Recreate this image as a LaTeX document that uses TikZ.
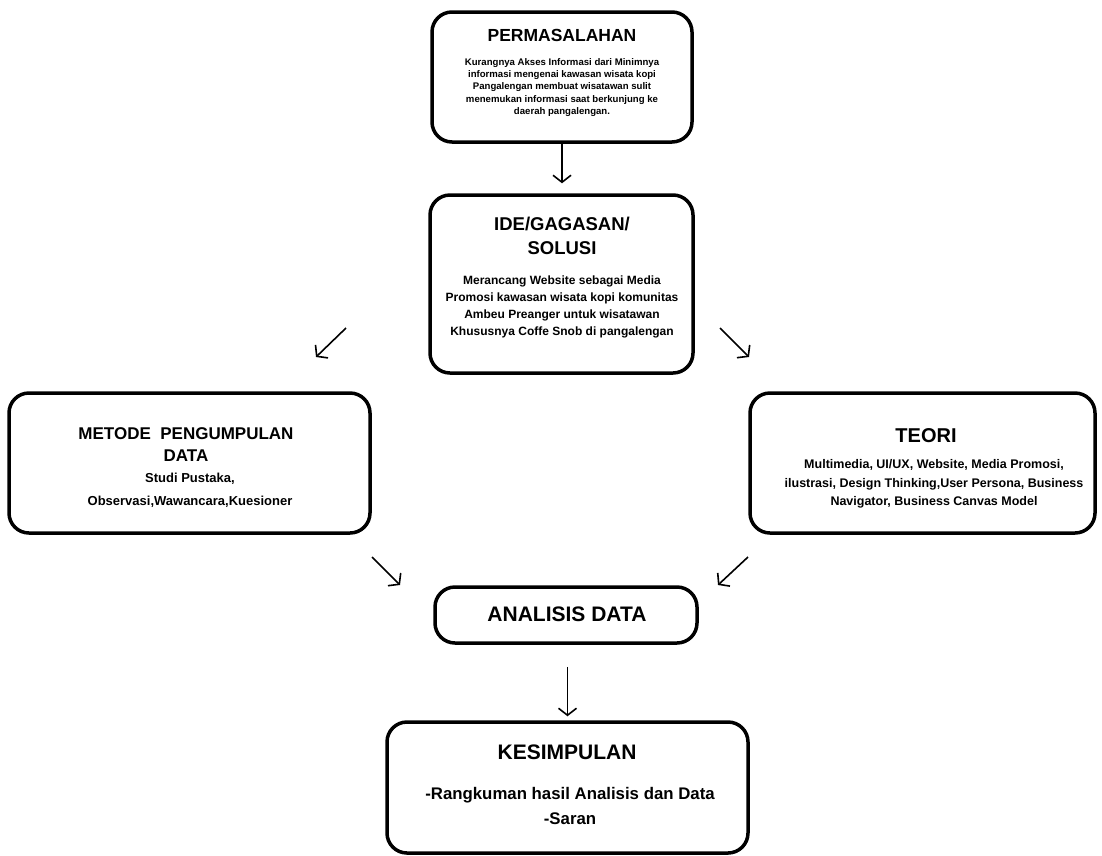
\documentclass[tikz,border=0pt]{standalone}
\usepackage{fontspec}
\setmainfont{Liberation Sans}
\usetikzlibrary{arrows.meta}
\tikzset{
  box/.style={draw=black, line width=3.5pt, rounded corners=20pt, fill=white, inner sep=0pt},
  txt/.style={align=center, inner sep=0pt},
  arr/.style={line width=1.6pt, -{Straight Barb[length=7pt,width=18pt,line width=1.6pt]}},
}
\newcommand{\fs}[2]{\bfseries\fontsize{#1}{#2}\selectfont}
\begin{document}
\begin{tikzpicture}[x=1pt,y=-1pt]
\useasboundingbox (0,0) rectangle (1102,855);
% boxes
\node[box, minimum width=260pt, minimum height=130pt] (perm) at (562,77) {};
\node[box, minimum width=263pt, minimum height=178pt] (ide) at (561.5,284) {};
\node[box, minimum width=361pt, minimum height=140pt] (met) at (189.5,463) {};
\node[box, minimum width=345pt, minimum height=140pt] (teo) at (922.5,463) {};
\node[box, minimum width=262pt, minimum height=56pt] (ana) at (566,615) {};
\node[box, minimum width=361pt, minimum height=131pt] (kes) at (567.5,787.5) {};
% texts
\node[txt, font=\fs{17.5}{20}] (permT) at (562,35) {PERMASALAHAN};
\node[txt, font=\fs{9.6}{12.2}] (permB) at (562,87.5) {Kurangnya Akses Informasi dari Minimnya\\informasi mengenai kawasan wisata kopi\\Pangalengan membuat wisatawan sulit\\menemukan informasi saat berkunjung ke\\daerah pangalengan.};
\node[txt, font=\fs{18.5}{24}] (ideT) at (562,236) {IDE/GAGASAN/\\SOLUSI};
\node[txt, font=\fs{12}{17}] (ideB) at (562,306.5) {Merancang Website sebagai Media\\Promosi kawasan wisata kopi komunitas\\Ambeu Preanger untuk wisatawan\\Khususnya Coffe Snob di pangalengan};
\node[txt, font=\fs{17}{22}] (metT) at (186,445) {METODE\ \ PENGUMPULAN\\DATA};
\node[txt, font=\fs{13}{23}] (metB) at (190,490.5) {Studi Pustaka,\\Observasi,Wawancara,Kuesioner};
\node[txt, font=\fs{20}{22}] (teoT) at (926,435.5) {TEORI};
\node[txt, font=\fs{12.5}{18.5}] (teoB) at (934,484) {Multimedia, UI/UX, Website, Media Promosi,\\ilustrasi, Design Thinking,User Persona, Business\\Navigator, Business Canvas Model};
\node[txt, font=\fs{21}{22}] (anaT) at (567,614) {ANALISIS DATA};
\node[txt, font=\fs{21}{22}] (kesT) at (567,752) {KESIMPULAN};
\node[txt, font=\fs{16.8}{25}] (kesB) at (570,806) {-Rangkuman hasil Analisis dan Data\\-Saran};
% free-standing arrow ends
\coordinate (l1s) at (346,328); \coordinate (l1e) at (316,357);
\coordinate (r1s) at (720,328); \coordinate (r1e) at (749,357);
\coordinate (l2s) at (372,557); \coordinate (l2e) at (400,585);
\coordinate (r2s) at (748,557); \coordinate (r2e) at (718,585);
% connectors
\draw[arr, shorten >=10pt] (perm.south) -- (perm.south |- ide.north);
\draw[arr] (l1s) -- (l1e);
\draw[arr] (r1s) -- (r1e);
\draw[arr] (l2s) -- (l2e);
\draw[arr] (r2s) -- (r2e);
\draw[arr, shorten <=22pt, shorten >=4pt] (ana.south -| kes.north) -- (kes.north);
\end{tikzpicture}
\end{document}
